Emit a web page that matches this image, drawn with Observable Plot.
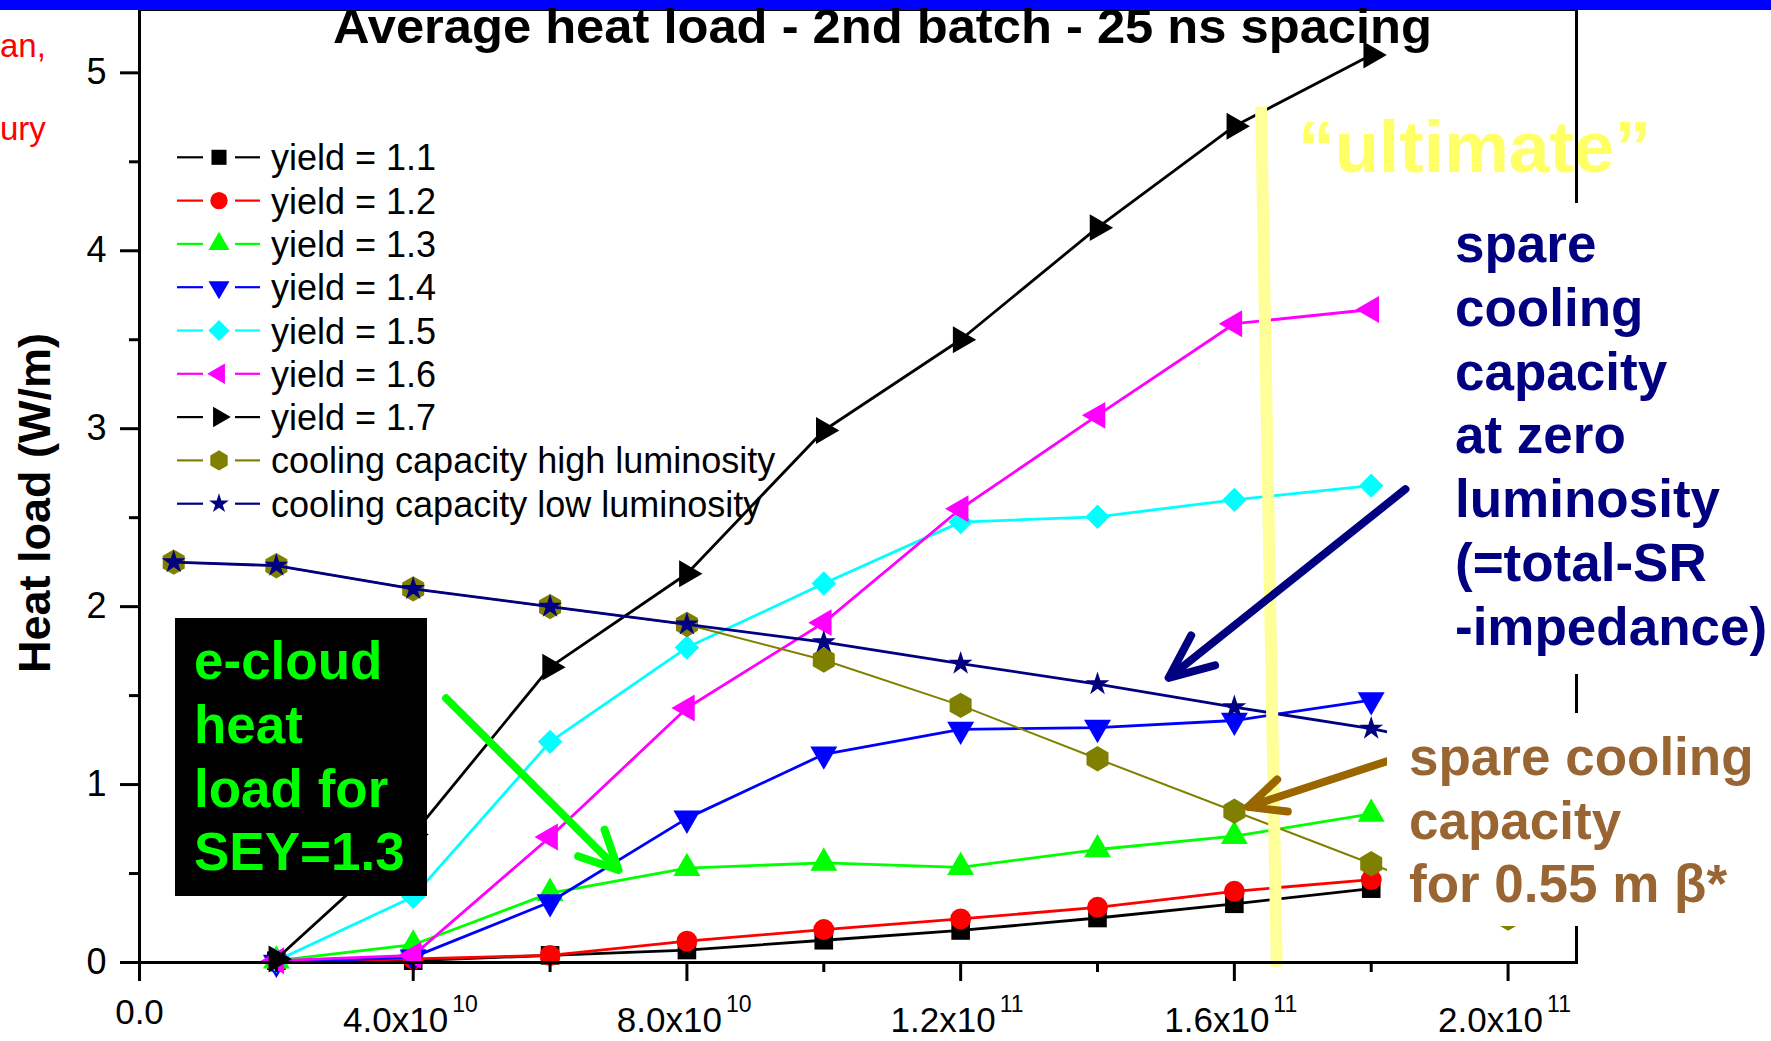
<!DOCTYPE html>
<html><head><meta charset="utf-8">
<script src="https://cdn.jsdelivr.net/npm/d3@7"></script>
<script src="https://cdn.jsdelivr.net/npm/@observablehq/plot@0.6"></script>
<style>
html,body{margin:0;padding:0;background:#fff;overflow:hidden}
#chart{position:relative;width:1771px;height:1041px}
</style></head><body><div id="chart"></div>
<script>
// ---------- data ----------
const yieldX = [2e10, 4e10, 6e10, 8e10, 1e11, 1.2e11, 1.4e11, 1.6e11, 1.8e11];
const yield11 = [0.01, 0.01, 0.04, 0.07, 0.125, 0.18, 0.25, 0.33, 0.415];
const yield12 = [0.0, 0.02, 0.04, 0.12, 0.185, 0.245, 0.31, 0.40, 0.466];
const yield13 = [0.01, 0.10, 0.39, 0.53, 0.56, 0.535, 0.635, 0.71, 0.835];
const yield14 = [0.0, 0.03, 0.34, 0.81, 1.17, 1.31, 1.32, 1.36, 1.475];
const yield15 = [0.01, 0.37, 1.24, 1.77, 2.13, 2.475, 2.505, 2.60, 2.68];
const yield16 = [0.01, 0.04, 0.705, 1.43, 1.91, 2.55, 3.075, 3.59, 3.67];
const yield17 = [0.02, 0.72, 1.66, 2.185, 2.99, 3.50, 4.13, 4.70, 5.10];
const coolX = [5e9, 2e10, 4e10, 6e10, 8e10, 1e11, 1.2e11, 1.4e11, 1.6e11, 1.8e11, 2e11];
const coolHigh = [2.25, 2.23, 2.10, 2.0, 1.90, 1.70, 1.445, 1.145, 0.85, 0.555, 0.25];
const coolLow = [2.25, 2.23, 2.10, 2.0, 1.90, 1.80, 1.68, 1.565, 1.435, 1.315, 1.16];
const seriesNames = ["yield = 1.1", "yield = 1.2", "yield = 1.3", "yield = 1.4", "yield = 1.5",
  "yield = 1.6", "yield = 1.7", "cooling capacity high luminosity", "cooling capacity low luminosity"];
const yTicks = [0, 1, 2, 3, 4, 5];
const yMinorTicks = [0.5, 1.5, 2.5, 3.5, 4.5];
const xTicks = [0, 4e10, 8e10, 1.2e11, 1.6e11, 2e11];
const xMinorTicks = [2e10, 6e10, 1e11, 1.4e11, 1.8e11];
const xTickMantissa = ["0.0", "4.0x10", "8.0x10", "1.2x10", "1.6x10", "2.0x10"];
const xTickExponent = ["", "10", "10", "11", "11", "11"];
const titleText = "Average heat load - 2nd batch - 25 ns spacing";
const yLabelText = "Heat load (W/m)";
const boxGreenLines = ["e-cloud", "heat", "load for", "SEY=1.3"];
const navyLines = ["spare", "cooling", "capacity", "at zero", "luminosity", "(=total-SR", "-impedance)"];
const brownLines = ["spare cooling", "capacity", "for 0.55 m \u03B2*"];
const ultimateText = "\u201Cultimate\u201D";
// annotation arrows / marker line (data coordinates)
const arrowGreen = {x1: 4.48e10, y1: 1.485, x2: 7.0e10, y2: 0.52};
const arrowNavy = {x1: 1.85e11, y1: 2.66, x2: 1.504e11, y2: 1.60};
const arrowBrown = {x1: 1.822e11, y1: 1.13, x2: 1.62e11, y2: 0.875};
const ultimateLine = {x1: 1.639e11, y1: 4.81, x2: 1.662e11, y2: -0.025};

// ---------- styles ----------
const seriesX = [yieldX, yieldX, yieldX, yieldX, yieldX, yieldX, yieldX, coolX, coolX];
const seriesY = [yield11, yield12, yield13, yield14, yield15, yield16, yield17, coolHigh, coolLow];
const styles = [
  {color: "#000000", symbol: "square", rotate: 0, r: 10.5, lr: 8.5, sw: 2.8},
  {color: "#ff0000", symbol: "circle", rotate: 0, r: 10.5, lr: 8.7, sw: 2.8},
  {color: "#00ff00", symbol: "triangle", rotate: 0, r: 10, lr: 7.8, sw: 2.8},
  {color: "#0000ff", symbol: "triangle", rotate: 180, r: 10, lr: 7.8, sw: 2.8},
  {color: "#00ffff", symbol: "diamond2", rotate: 0, r: 11, lr: 9.5, sw: 2.8},
  {color: "#ff00ff", symbol: "triangle", rotate: -90, r: 10, lr: 7.6, sw: 2.8},
  {color: "#000000", symbol: "triangle", rotate: 90, r: 10, lr: 7.6, sw: 2.8},
  {color: "#808000", symbol: "hexagon", rotate: 0, r: 11, lr: 8.7, sw: 2},
  {color: "#000080", symbol: "star", rotate: 0, r: 7.5, lr: 6.2, sw: 2.8}
];
const FONT = "'Liberation Sans', Arial, Helvetica, sans-serif";

const seriesMarks = [];
seriesY.forEach((ys, i) => {
  const s = styles[i];
  const rows = ys.map((v, j) => ({x: seriesX[i][j], y: v}));
  seriesMarks.push(Plot.line(rows, {x: "x", y: "y", stroke: s.color, strokeWidth: s.sw}));
  seriesMarks.push(Plot.dot(rows, {x: "x", y: "y", symbol: s.symbol, r: s.r, fill: s.color, stroke: "none", rotate: s.rotate}));
});

const xLabelRows = xTicks.map((v, i) => ({v, m: xTickMantissa[i], e: xTickExponent[i]}));

const plot = Plot.plot({
  width: 1771, height: 1041,
  marginLeft: 139, marginRight: 195, marginTop: 9, marginBottom: 79,
  style: {fontFamily: FONT, background: "white", overflow: "visible"},
  x: {domain: [0, 2.1e11]},
  y: {domain: [0, 5.356]},
  marks: [
    ...seriesMarks,
    Plot.link([ultimateLine], {x1: "x1", y1: "y1", x2: "x2", y2: "y2", stroke: "#ffff99", strokeWidth: 12}),
    Plot.arrow([arrowGreen], {x1: "x1", y1: "y1", x2: "x2", y2: "y2", stroke: "#00ff00", strokeWidth: 8, headLength: 8, headAngle: 52}),
    Plot.arrow([arrowNavy], {x1: "x1", y1: "y1", x2: "x2", y2: "y2", stroke: "#000080", strokeWidth: 8, headLength: 9, headAngle: 47}),
    Plot.arrow([arrowBrown], {x1: "x1", y1: "y1", x2: "x2", y2: "y2", stroke: "#996600", strokeWidth: 8, headLength: 7.5, headAngle: 50}),
    Plot.frame({stroke: "black", strokeWidth: 3}),
    Plot.axisY({ticks: yTicks, tickSize: 19, tickPadding: 14, fontSize: 36, strokeWidth: 3, label: null, tickFormat: d => String(d)}),
    Plot.axisY({ticks: yMinorTicks, tickSize: 10, strokeWidth: 3, label: null, tickFormat: () => ""}),
    Plot.axisX({ticks: xTicks, tickSize: 19, strokeWidth: 3, label: null, tickFormat: () => ""}),
    Plot.axisX({ticks: xMinorTicks, tickSize: 10, strokeWidth: 3, label: null, tickFormat: () => ""}),
    Plot.text(xLabelRows.filter(d => !d.e), {x: "v", text: "m", frameAnchor: "bottom", lineAnchor: "bottom", dy: 61, fontSize: 35, textAnchor: "middle", fill: "black"}),
    Plot.text(xLabelRows.filter(d => d.e), {x: "v", text: "m", frameAnchor: "bottom", lineAnchor: "bottom", dy: 69, dx: 35, fontSize: 35, textAnchor: "end", fill: "black"}),
    Plot.text(xLabelRows.filter(d => d.e), {x: "v", text: "e", frameAnchor: "bottom", lineAnchor: "bottom", dy: 49, dx: 39, fontSize: 23, textAnchor: "start", fill: "black"})
  ]
});
document.getElementById("chart").appendChild(plot);

// ---------- overlays ----------
const svg = d3.select(plot);
const styleEl = svg.select("style").node();
function addText(parent, x, y, size, color, str, bold, before) {
  const t = before !== undefined ? parent.insert("text", before) : parent.append("text");
  t.attr("x", x).attr("y", y).attr("font-family", FONT).attr("font-size", size)
    .attr("font-weight", bold ? "bold" : "normal").attr("text-anchor", "start").attr("fill", color).text(str);
  return t;
}

// "ultimate" label sits below the frame line
addText(svg, 1298, 172, 73, "#ffff66", ultimateText, true, () => styleEl ? styleEl.nextSibling : null);

// top blue bar
svg.append("rect").attr("x", 0).attr("y", 0).attr("width", 1771).attr("height", 10).attr("fill", "#0000ff");

// red side text fragments
addText(svg, 0, 57, 33, "#ff0000", "an,", false);
addText(svg, 0, 140, 33, "#ff0000", "ury", false);

// title
addText(svg, 333, 43, 48, "black", titleText, true)
  .attr("textLength", 1099).attr("lengthAdjust", "spacingAndGlyphs");

// y label
svg.append("text").attr("transform", "translate(50,503) rotate(-90)").attr("text-anchor", "middle")
  .attr("font-family", FONT).attr("font-weight", "bold").attr("font-size", 45).attr("fill", "black").text(yLabelText);

// legend
const hexagon = {draw(context, size) {
  const rx = Math.sqrt(size / Math.PI), ry = rx * Math.sqrt(4 / 3), hy = ry / 2;
  context.moveTo(0, ry); context.lineTo(rx, hy); context.lineTo(rx, -hy); context.lineTo(0, -ry);
  context.lineTo(-rx, -hy); context.lineTo(-rx, hy); context.closePath();
}};
const symbolMap = {square: d3.symbolSquare, circle: d3.symbolCircle, triangle: d3.symbolTriangle,
  diamond2: d3.symbolDiamond2, hexagon: hexagon, star: d3.symbolStar};
const lg = svg.append("g");
seriesNames.forEach((name, i) => {
  const s = styles[i];
  const cy = 157.3 + i * 43.3;
  lg.append("line").attr("x1", 177).attr("x2", 203).attr("y1", cy).attr("y2", cy).attr("stroke", s.color).attr("stroke-width", 2.2);
  lg.append("line").attr("x1", 235).attr("x2", 260).attr("y1", cy).attr("y2", cy).attr("stroke", s.color).attr("stroke-width", 2.2);
  lg.append("path").attr("d", d3.symbol(symbolMap[s.symbol], Math.PI * s.lr * s.lr)())
    .attr("transform", `translate(219,${cy}) rotate(${s.rotate})`).attr("fill", s.color);
  addText(lg, 271, cy + 13, 36, "black", name, false);
});

// green annotation box
svg.append("rect").attr("x", 175).attr("y", 618).attr("width", 252).attr("height", 278).attr("fill", "black");
boxGreenLines.forEach((t, i) => addText(svg, 194, 679 + i * 63.8, 53, "#00ff00", t, true));

// navy annotation
svg.append("rect").attr("x", 1445).attr("y", 203).attr("width", 326).attr("height", 471).attr("fill", "white");
navyLines.forEach((t, i) => addText(svg, 1455, 262 + i * 63.8, 53, "#000080", t, true));

// brown annotation
svg.append("rect").attr("x", 1387).attr("y", 713).attr("width", 384).attr("height", 213).attr("fill", "white");
brownLines.forEach((t, i) => addText(svg, 1409, 775 + i * 63.5, 53, "#996633", t, true));
</script></body></html>
